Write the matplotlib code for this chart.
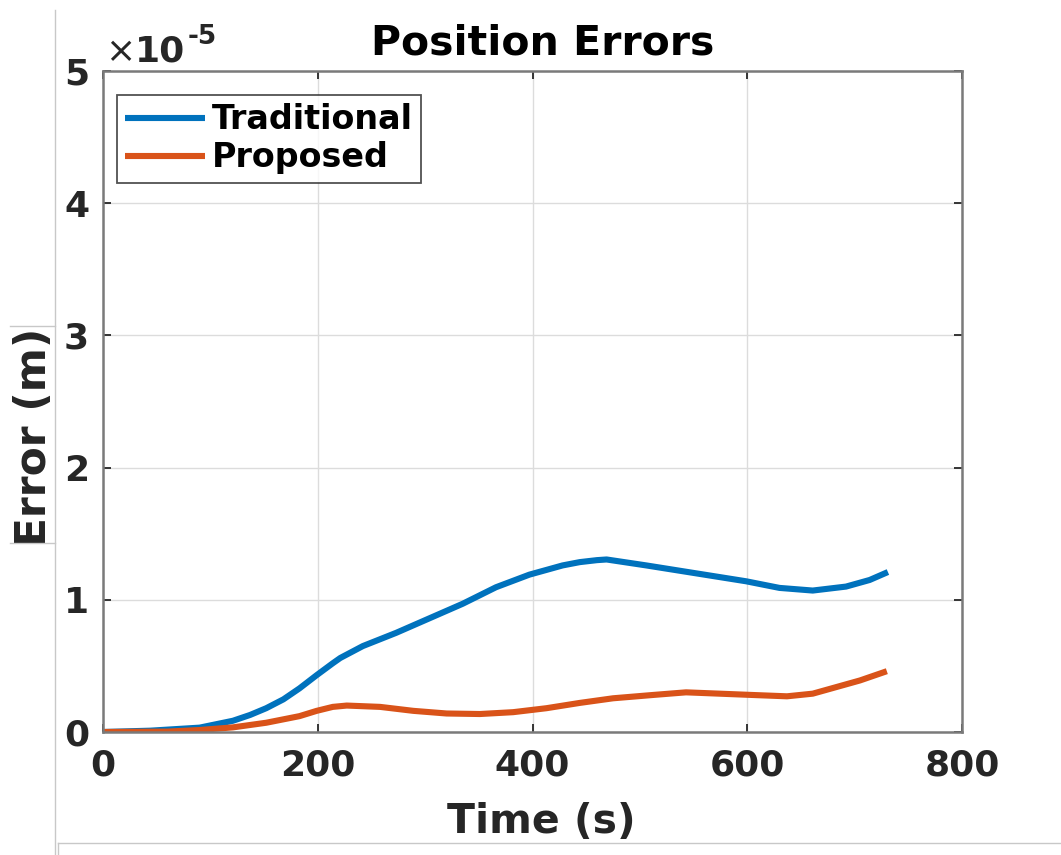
import numpy as np
import matplotlib
matplotlib.use("Agg")
import matplotlib.pyplot as plt
from matplotlib.lines import Line2D

# time stamps (s) and position errors (x 1e-5 m)
t_trad = [0, 44, 90, 121, 137, 152, 168, 183, 199, 214, 221, 242, 273, 304, 335,
          366, 397, 428, 444, 460, 469, 506, 537, 568, 599, 630, 661, 692, 714, 731]
e_trad = [0.0, 0.01, 0.033, 0.085, 0.129, 0.18, 0.247, 0.33, 0.43, 0.52, 0.56,
          0.65, 0.75, 0.86, 0.97, 1.095, 1.19, 1.26, 1.285, 1.30, 1.305, 1.26,
          1.22, 1.18, 1.14, 1.09, 1.07, 1.10, 1.15, 1.21]
t_prop = [0, 60, 90, 121, 152, 183, 199, 214, 227, 258, 289, 320, 351, 382, 413,
          444, 475, 512, 543, 574, 605, 637, 661, 683, 705, 730]
e_prop = [0.0, 0.003, 0.015, 0.035, 0.07, 0.12, 0.16, 0.19, 0.20, 0.19, 0.16,
          0.14, 0.136, 0.15, 0.18, 0.22, 0.255, 0.28, 0.30, 0.29, 0.28, 0.27,
          0.29, 0.34, 0.39, 0.46]
scale = 1e-5
e_trad = np.array(e_trad) * scale
e_prop = np.array(e_prop) * scale

xticks = [0, 200, 400, 600, 800]
yticks = [0, 1, 2, 3, 4, 5]

blue = '#0072BD'
orange = '#D95319'
txt = '#262626'

plt.rcParams['font.family'] = ['DejaVu Sans']

W, H = 1061, 855
fig = plt.figure(figsize=(W / 100, H / 100), dpi=100)
ax = fig.add_axes([103 / W, 1 - 732 / H, (962 - 103) / W, (732 - 71) / H])

ax.plot(t_trad, e_trad, color=blue, lw=4.4, solid_capstyle='butt',
        solid_joinstyle='round', label='Traditional')
ax.plot(t_prop, e_prop, color=orange, lw=4.4, solid_capstyle='butt',
        solid_joinstyle='round', label='Proposed')

ax.set_xlim(0, 800)
ax.set_ylim(0, 5 * scale)
ax.set_xticks(xticks)
ax.set_xticklabels([str(v) for v in xticks])
ax.set_yticks([v * scale for v in yticks])
ax.set_yticklabels([str(v) for v in yticks])

ax.grid(True, color='#dcdcdc', lw=1.0)
ax.set_axisbelow(True)
for s in ax.spines.values():
    s.set_color('#7a7a7a')
    s.set_linewidth(1.8)
ax.tick_params(direction='in', length=6, width=1.3, color=txt,
               top=True, right=True, labelsize=26)
ax.tick_params(axis='x', pad=12)
ax.tick_params(axis='y', pad=10)
for lab in ax.get_xticklabels() + ax.get_yticklabels():
    lab.set_fontweight('bold')
    lab.set_color(txt)

ax.set_title('Position Errors', fontsize=29.5, fontweight='bold', pad=12, x=0.512)
ax.set_xlabel('Time (s)', fontsize=29.5, fontweight='bold', labelpad=14, color=txt)
ax.xaxis.label.set_x(0.51)
ax.set_ylabel('Error (m)', fontsize=30.5, fontweight='bold', color=txt)
ax.yaxis.set_label_coords(-0.056, 0.446)

# exponent label in the top left corner
fig.text(105 / W, 1 - 62 / H, '\u00d7', fontsize=26, color=txt, va='baseline')
fig.text(135 / W, 1 - 62 / H, '10', fontsize=26, fontweight='bold', color=txt, va='baseline')
fig.text(188 / W, 1 - 44 / H, '-5', fontsize=19, fontweight='bold', color=txt, va='baseline')

leg = ax.legend(loc='upper left', bbox_to_anchor=((117 - 103) / 859, (732 - 95) / 661),
                prop={'weight': 'bold', 'size': 24}, frameon=True, fancybox=False,
                borderpad=0.25, handlelength=2.4, handletextpad=0.2,
                labelspacing=0.15, borderaxespad=0.0)
leg.get_frame().set_edgecolor(txt)
leg.get_frame().set_linewidth(1.3)

# thin gray border lines around the figure
edge = '#c8c8c8'
fig.add_artist(Line2D([55 / W, 55 / W], [0, 1 - 10 / H], color=edge, lw=1))
fig.add_artist(Line2D([10 / W, 55 / W], [1 - 326 / H, 1 - 326 / H], color=edge, lw=1))
fig.add_artist(Line2D([10 / W, 55 / W], [1 - 543 / H, 1 - 543 / H], color=edge, lw=1))
fig.add_artist(Line2D([58 / W, 1], [1 - 843 / H, 1 - 843 / H], color=edge, lw=1))
fig.add_artist(Line2D([58 / W, 58 / W], [0, 1 - 843 / H], color=edge, lw=1))

fig.savefig('out.png', dpi=100)
